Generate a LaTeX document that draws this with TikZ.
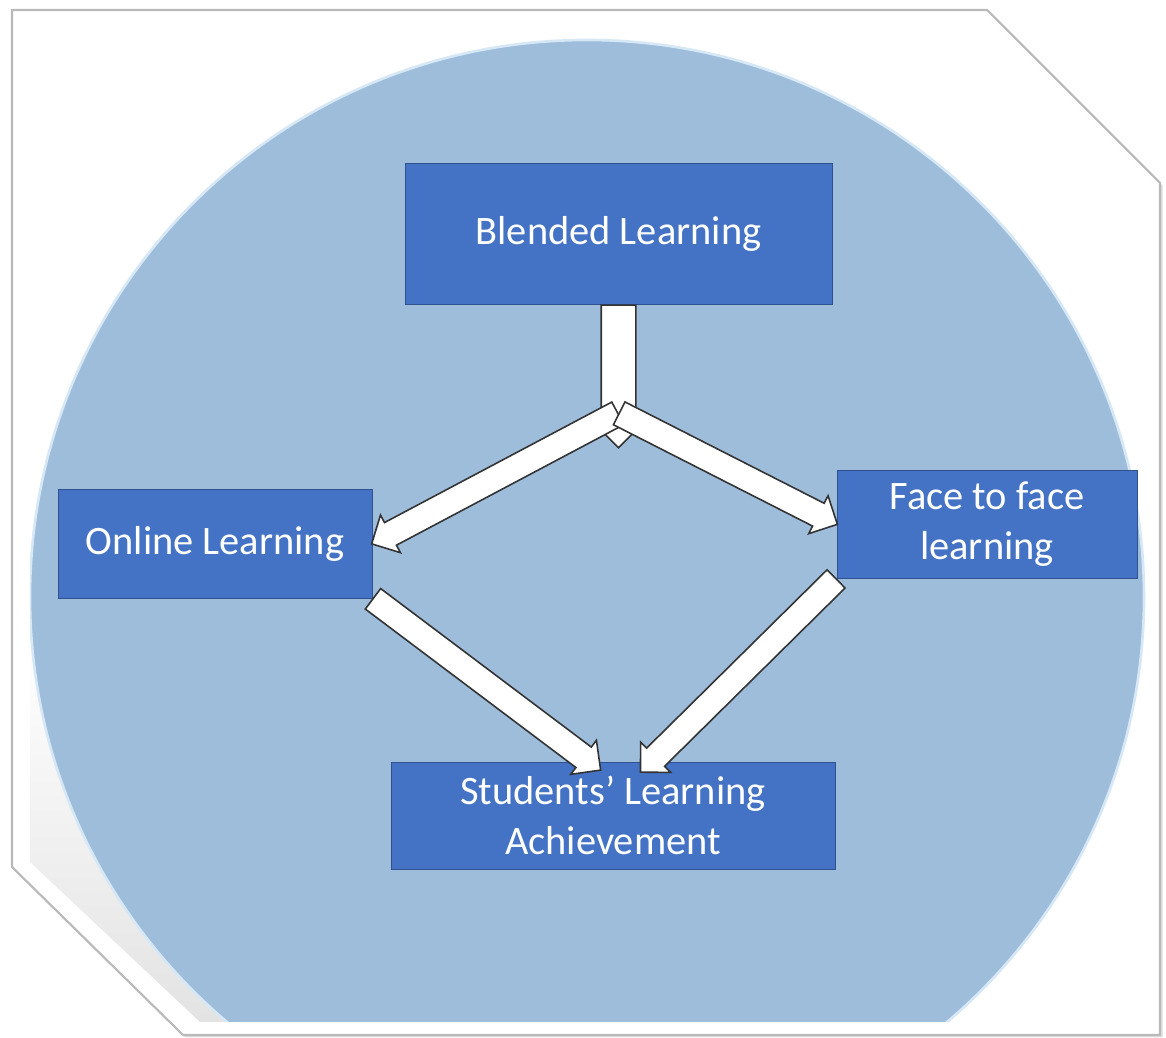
\documentclass[tikz,border=0pt]{standalone}
\usepackage{fontspec}
\setmainfont{Carlito}
\usetikzlibrary{calc,shapes.arrows}

\definecolor{boxblue}{HTML}{4472C4}
\definecolor{boxline}{HTML}{2F528F}
\definecolor{discblue}{HTML}{9DBDDB}
\definecolor{discrim}{HTML}{D6E7F5}

\newcommand{\blockarrow}[3][]{%
  \path let \p1=(#2), \p2=(#3), \n1={veclen(\x2-\x1,\y2-\y1)} in
    (#2) -- (#3) node[pos=0, anchor=tail, sloped, allow upside down, fatarrow, #1, minimum height=\n1] {};}

\begin{document}
\begin{tikzpicture}[
  box/.style={draw=boxline, fill=boxblue, text=white, align=center, inner sep=0pt,
    font=\fontsize{23}{28.5}\selectfont},
  fatarrow/.style={single arrow, draw=black!80, fill=white, line width=0.9pt,
    inner xsep=0pt, inner ysep=0.24cm, single arrow head extend=0.17cm,
    single arrow tip angle=90}]
\useasboundingbox (0,0) rectangle (23.32,20.76);
% frame
\fill[gray!25] (0.29,20.51) -- (19.79,20.51) -- (23.25,17.05) -- (23.25,0.01) -- (3.71,0.01) -- (0.29,3.37) -- cycle;
\draw[gray!55, fill=white, line width=1.2pt] (0.24,20.56) -- (19.74,20.56) -- (23.2,17.1) -- (23.2,0.06) -- (3.66,0.06) -- (0.24,3.42) -- cycle;
\begin{scope}
\clip (0.6,20.2) -- (19.6,20.2) -- (23.0,16.8) -- (23.0,0.32) -- (4.0,0.32) -- (0.6,3.52) -- cycle;
\shade[top color=white, bottom color=gray!22] (0.6,8) rectangle (8,0.32);
\fill[discblue] (11.74,8.82) circle (11.14);
\draw[discrim, line width=1.5pt] (11.74,8.82) circle (11.14);
\end{scope}

\path (12.37,16.09) node[box, minimum width=8.54cm, minimum height=2.82cm] (blended) {Blended Learning};
\path (4.30,9.89) node[box, minimum width=6.28cm, minimum height=2.18cm] (online) {Online Learning};
\path (19.74,10.28) node[box, minimum width=6.0cm, minimum height=2.16cm] (face) {Face to face\\learning};
\path (12.26,4.45) node[box, minimum width=8.88cm, minimum height=2.14cm] (students) {Students’ Learning\\Achievement};

\coordinate (split) at (12.37,11.82);
\coordinate (fork) at (12.37,12.5);
\coordinate (inleft) at ([xshift=-0.26cm,yshift=-0.16cm]students.north);
\coordinate (inright) at ([xshift=0.56cm,yshift=-0.2cm]students.north);

\blockarrow[inner ysep=0.33cm, single arrow head extend=0.1cm]{blended.south}{split}
\blockarrow{fork}{online.east}
\blockarrow{fork}{face.west}
\blockarrow{online.south east}{inleft}
\blockarrow{face.south west}{inright}
\end{tikzpicture}
\end{document}
